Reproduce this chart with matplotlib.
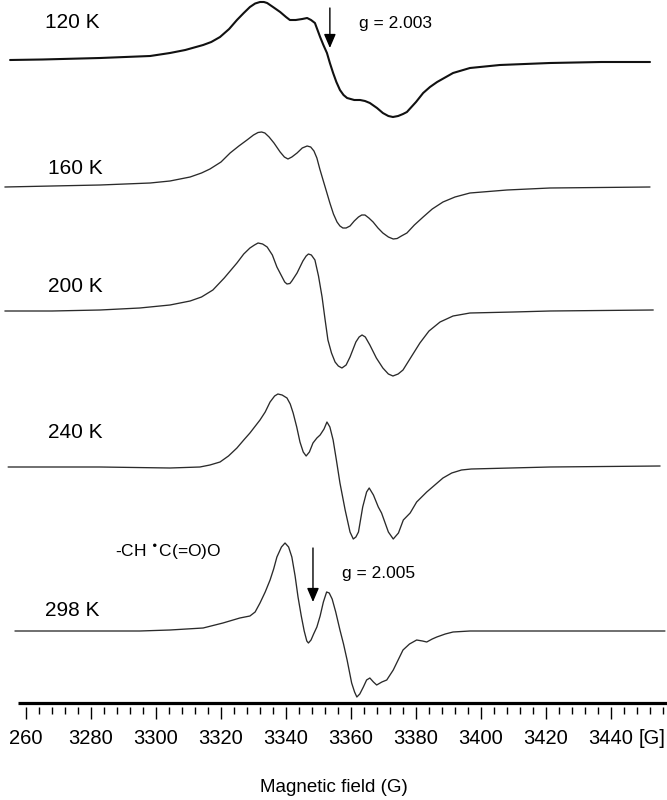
import matplotlib
matplotlib.use('Agg')
import matplotlib.pyplot as plt
import numpy as np

# ---------------- data (magnetic field in G, intensity in arbitrary units) ----------------
temps = ['120 K', '160 K', '200 K', '240 K', '298 K']

field_120 = [3255.1, 3265, 3282.8, 3298.2, 3304.3, 3309, 3314.5, 3317, 3319.7, 3322.5, 3324.9, 3327,
             3328.9, 3330.5, 3332.0, 3333.2, 3334.2, 3336, 3338.2, 3340, 3341.2, 3343, 3345, 3346.5,
             3347.7, 3348.9, 3350.5, 3351.5, 3352.6, 3353.5, 3354.5, 3355.5, 3356.6, 3357.7, 3358.8,
             3361, 3362.8, 3364.3, 3365.8, 3368, 3369.8, 3371.5, 3372.9, 3374.5, 3376, 3377.2, 3380,
             3382.2, 3384.3, 3386.5, 3391.4, 3396.6, 3405.8, 3421.2, 3437, 3452]
int_120 = [0, 0.5, 2, 4, 7, 10, 15, 18, 23, 31, 40, 47,
           53, 56.5, 58, 58, 57, 53, 48, 43, 40, 40, 41, 42,
           40, 37, 23, 15, 7, -3, -13, -22, -30, -35, -38,
           -40, -40, -41, -43, -48, -53, -56, -57, -56, -54, -52, -42,
           -33, -27, -22, -13, -8, -5, -3, -2, -2]

field_160 = [3253.5, 3268, 3282.8, 3298.2, 3304.3, 3310.5, 3314, 3316.6, 3320, 3322.8, 3325.5, 3328.0,
             3330, 3331.4, 3332.5, 3333.5, 3334.8, 3336.3, 3338.2, 3339.5, 3340.6, 3341.8, 3343.4,
             3345, 3346.5, 3347.6, 3348.6, 3349.5, 3350.4, 3351.4, 3352.5, 3353.5, 3354.6, 3355.7,
             3356.6, 3357.5, 3358.5, 3359.7, 3361, 3362.3, 3363.3, 3364.3, 3365.5, 3366.8, 3368.3,
             3369.8, 3371.5, 3373, 3374.2, 3375.5, 3377.2, 3379.5, 3382.2, 3385, 3388.3, 3392,
             3396.6, 3408, 3421.2, 3452]
int_160 = [0, 1, 2, 4, 6, 10, 14, 18, 25, 34, 41, 47,
           52, 54.5, 55, 54, 50, 44, 35, 30, 28, 30, 34,
           39, 41, 40, 36, 29, 18, 7, -5, -16, -27, -35,
           -39, -41, -41, -39, -34, -30, -28, -28, -31, -35, -41,
           -46, -50, -52, -51.5, -49, -46, -38, -30, -22, -15, -10,
           -6, -3, -1, 0]

field_200 = [3253.5, 3268, 3282.8, 3295, 3304.3, 3310.5, 3314, 3317.5, 3321, 3324.9, 3327, 3328.9,
             3330.3, 3331.4, 3332.8, 3334.2, 3335.8, 3337.2, 3338.8, 3339.6, 3340.3, 3341.2, 3341.8,
             3343.4, 3345.2, 3346.2, 3346.9, 3347.8, 3348.9, 3350, 3351.1, 3352.0, 3352.9, 3354,
             3355.1, 3356.1, 3357.2, 3358.5, 3359.7, 3361.5, 3362.5, 3363.4, 3364.4, 3365.8, 3367.8,
             3369.8, 3371.5, 3372.9, 3374.5, 3376.0, 3378.5, 3381.2, 3384, 3387.4, 3391.4, 3396.6,
             3410, 3421.2, 3453]
int_200 = [0, 0, 1, 3, 6, 10, 14, 21, 33, 48, 57, 63,
           66, 68, 67, 64, 56, 44, 34, 29, 27, 27.5, 30,
           38, 50, 55, 57, 56, 51, 35, 14, -8, -29, -42,
           -51, -55, -57, -54, -46, -31, -26, -24, -26, -34, -47,
           -57, -63, -65, -63, -59, -46, -32, -20, -11, -5, -2,
           -1, 0, 1]

field_240 = [3254.5, 3268, 3282.8, 3304.3, 3313.5, 3316.6, 3319.7, 3322.3, 3324.9, 3327, 3328.9, 3332.0,
             3333.6, 3335.1, 3336.5, 3337.5, 3338.8, 3340.3, 3341.3, 3342.2, 3343.3, 3344.3, 3345.3,
             3346.2, 3347.2, 3348.3, 3349.5, 3350.5, 3351.7, 3352.6, 3353.5, 3354.5, 3355.5, 3356.6,
             3358.2, 3359.7, 3360.7, 3361.5, 3362.3, 3363.6, 3364.8, 3365.6, 3366.9, 3368.4, 3369.4,
             3371.5, 3373.0, 3374.6, 3376.1, 3378.2, 3380.2, 3383.3, 3385.8, 3388.3, 3391, 3394,
             3397, 3421.2, 3455.1]
int_240 = [0, 0, 0, -1, 0, 2, 5, 11, 19, 27, 34, 47,
           55, 65, 71, 73, 72, 69, 63, 54, 40, 25, 15,
           11, 15, 24, 29, 32, 38, 45, 40, 27, 7, -16,
           -43, -65, -72, -70, -65, -40, -25, -21, -28, -40, -46,
           -65, -72, -66, -53, -46, -35, -25, -18, -11, -6, -3,
           -2, 0, 1]

field_298 = [3256.6, 3270, 3282.8, 3295, 3304.3, 3314.5, 3320.6, 3325.8, 3328.9, 3330.5, 3332.0, 3333.6,
             3335.1, 3336.2, 3337.2, 3338.6, 3339.7, 3340.8, 3341.8, 3342.8, 3343.7, 3344.7, 3345.6,
             3346.4, 3346.9, 3347.7, 3348.5, 3349.5, 3350.5, 3351.5, 3352.5, 3353.3, 3354.2, 3355.3,
             3356.6, 3357.7, 3358.8, 3360.2, 3361.1, 3361.8, 3362.7, 3363.8, 3364.8, 3365.8, 3366.9,
             3367.9, 3369.5, 3371.0, 3373.0, 3374.5, 3376.0, 3378, 3380.2, 3382, 3383.3, 3385,
             3386.4, 3389, 3391.4, 3396.6, 3424.3, 3456.6]
int_298 = [0, 0, 0, 0, 1, 3, 8, 13, 15, 19, 28, 39,
           51, 62, 74, 84, 88, 84, 74, 55, 34, 15, 0,
           -10, -12, -9, -3, 4, 15, 29, 39, 38, 32, 19,
           1, -13, -29, -52, -61, -66, -63, -56, -49, -47, -51,
           -54, -51, -49, -39, -29, -19, -13, -9, -10, -11, -8,
           -6, -3, -1, 0, 0, 0]

fields = [field_120, field_160, field_200, field_240, field_298]
intensities = [int_120, int_160, int_200, int_240, int_298]

major_ticks = list(range(3260, 3441, 20))
major_labels = ['260'] + [str(v) for v in major_ticks[1:]]
minor_ticks = [v for v in range(3260, 3457, 4) if v % 20 != 0]

g_labels = ['g = 2.003', 'g = 2.005']
g_fields = [3353.5, 3348.3]
radical_label = r'-CH $^{\bullet}$C(=O)O'

# ---------------- layout ----------------
W, H = 667, 800
PX_PER_G = 3.25
XMIN = 3252.0
XMAX = XMIN + W / PX_PER_G


def gx(px):
    return XMIN + px / PX_PER_G


offsets = [60, 187, 311, 467, 631]          # baseline of each stacked trace (pixel rows)
label_pos = [(45, 22), (48, 168), (48, 286), (48, 432), (45, 610)]
widths = [1.5, 0.95, 0.95, 0.95, 0.95]
colors = ['#111111', '#2a2a2a', '#2a2a2a', '#2a2a2a', '#2a2a2a']

fam = ['Liberation Sans', 'DejaVu Sans']

fig = plt.figure(figsize=(W / 100, H / 100), dpi=100)
ax = fig.add_axes([0, 0, 1, 1])
ax.set_xlim(XMIN, XMAX)
ax.set_ylim(H, 0)

for f, inten, off, lw, c in zip(fields, intensities, offsets, widths, colors):
    ax.plot(f, off - np.asarray(inten, dtype=float), color=c, lw=lw,
            solid_joinstyle='round', solid_capstyle='round')

for t, (lx, ly) in zip(temps, label_pos):
    ax.text(gx(lx), ly, t, ha='left', va='center', fontsize=15, family=fam, color='black')

# g-value arrows and labels
arrow_style = dict(arrowstyle='-|>,head_length=0.7,head_width=0.3', lw=1.0, color='black',
                   shrinkA=0, shrinkB=0, mutation_scale=12)
ax.annotate('', xy=(g_fields[0], 48), xytext=(g_fields[0], 8), arrowprops=arrow_style)
ax.text(gx(359), 28, g_labels[0], ha='left', va='baseline', fontsize=12.5, family=fam)

ax.annotate('', xy=(g_fields[1], 602), xytext=(g_fields[1], 548), arrowprops=arrow_style)
ax.text(gx(342), 578, g_labels[1], ha='left', va='baseline', fontsize=12.5, family=fam)
ax.text(gx(115), 557, radical_label, ha='left', va='baseline', fontsize=12.5, family=fam)

# axis
for s in ['top', 'left', 'right']:
    ax.spines[s].set_visible(False)
ax.spines['bottom'].set_position(('data', 706.5))
ax.spines['bottom'].set_visible(False)
ax.hlines(703, gx(18), XMAX, color='black', lw=2.3)
ax.set_yticks([])
ax.set_xticks(major_ticks, major_labels)
ax.set_xticks(minor_ticks, minor=True)
ax.tick_params(axis='x', which='major', direction='out', length=8.8, width=1.0, pad=7.5,
               labelsize=14.5, colors='black')
ax.tick_params(axis='x', which='minor', direction='out', length=5.0, width=1.0)
for lbl in ax.get_xticklabels():
    lbl.set_family(fam)
ax.text(gx(666), 729, '[G]', ha='right', va='top', fontsize=14.5, family=fam)

ax.set_xlabel('Magnetic field (G)', fontsize=13.5, family=fam)
ax.xaxis.set_label_coords(334 / W, 1 - 787 / H)
ax.xaxis.label.set_va('center')

fig.savefig('out.png', dpi=100)
